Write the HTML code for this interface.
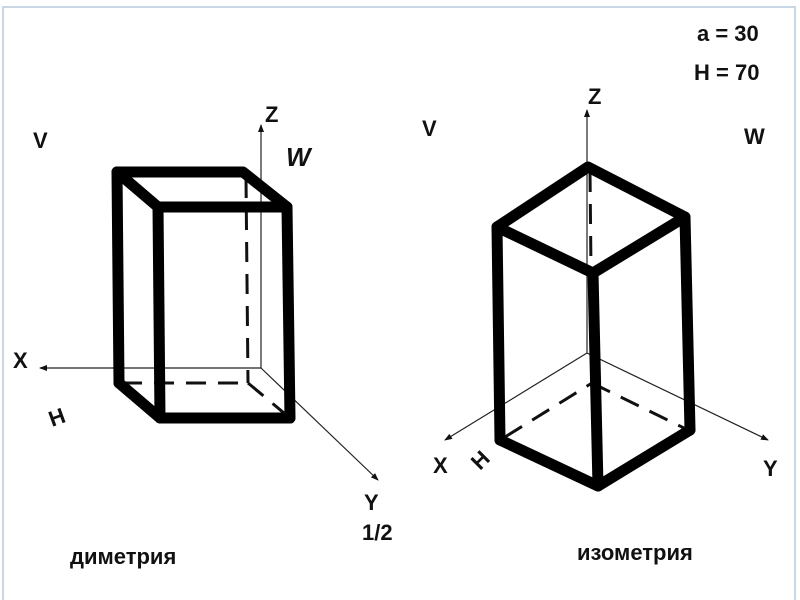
<!DOCTYPE html>
<html><head><meta charset="utf-8"><style>
html,body{margin:0;padding:0;background:#fff;width:800px;height:600px;overflow:hidden}
svg{display:block}
text{font-family:"Liberation Sans",sans-serif;font-weight:bold;fill:#111}
</style></head><body>
<svg width="800" height="600" viewBox="0 0 800 600">
<defs><marker id="a" markerWidth="8" markerHeight="6" refX="7" refY="3" orient="auto" markerUnits="userSpaceOnUse"><path d="M0,0 L8,3 L0,6 z" fill="#111"/></marker></defs>
<path d="M3,600 V7 H795 V600" fill="none" stroke="#c9d6e6" stroke-width="2"/>
<g stroke="#222" stroke-width="1.2" fill="none">
<line x1="261" y1="368" x2="261" y2="125" marker-end="url(#a)"/>
<line x1="261" y1="368" x2="40" y2="368" marker-end="url(#a)"/>
<line x1="261" y1="368" x2="378" y2="480" marker-end="url(#a)"/>
<line x1="587" y1="353" x2="587" y2="110" marker-end="url(#a)"/>
<line x1="587" y1="353" x2="445" y2="440" marker-end="url(#a)"/>
<line x1="587" y1="353" x2="768" y2="440" marker-end="url(#a)"/>
</g>
<g stroke="#111" stroke-width="3" fill="none" stroke-dasharray="20,12">
<line x1="246" y1="178" x2="248" y2="383"/>
<line x1="122" y1="383" x2="248" y2="383"/>
<line x1="248" y1="383" x2="290" y2="418"/>
<line x1="590" y1="172" x2="591" y2="270"/>
<line x1="505" y1="437" x2="592" y2="383"/>
<line x1="592" y1="383" x2="688" y2="430"/>
</g>
<g stroke="#000" stroke-width="11" fill="none" stroke-linejoin="round" stroke-linecap="round">
<path d="M117,172 L243,172 L287,207 L158,207 Z"/>
<line x1="117" y1="172" x2="119" y2="383"/>
<line x1="158" y1="207" x2="160" y2="418"/>
<line x1="287" y1="207" x2="290" y2="418"/>
<path d="M119,383 L160,418 L290,418"/>
</g>
<g stroke="#000" stroke-width="11" fill="none" stroke-linejoin="round" stroke-linecap="round">
<path d="M588,167 L685,217 L593,273 L497,227 Z"/>
<line x1="497" y1="227" x2="500" y2="440"/>
<line x1="593" y1="273" x2="598" y2="486"/>
<line x1="685" y1="217" x2="690" y2="430"/>
<path d="M500,440 L598,486 L690,430"/>
</g>
<g font-size="22">
<text x="265" y="122">Z</text>
<text x="33" y="148">V</text>
<text x="286" y="166" font-style="italic" font-weight="normal" font-size="26">W</text>
<text x="13" y="368">X</text>
<text x="0" y="0" transform="translate(52,427) rotate(-20)">H</text>
<text x="364" y="510">Y</text>
<text x="362" y="540">1/2</text>
<text x="70" y="564">диметрия</text>
<text x="588" y="104">Z</text>
<text x="422" y="136">V</text>
<text x="744" y="144">W</text>
<text x="433" y="473">X</text>
<text x="0" y="0" transform="translate(480,471) rotate(-45)">H</text>
<text x="763" y="476">Y</text>
<text x="577" y="560">изометрия</text>
<text x="697" y="41">a = 30</text>
<text x="694" y="80">H = 70</text>
</g>
</svg>
</body></html>
